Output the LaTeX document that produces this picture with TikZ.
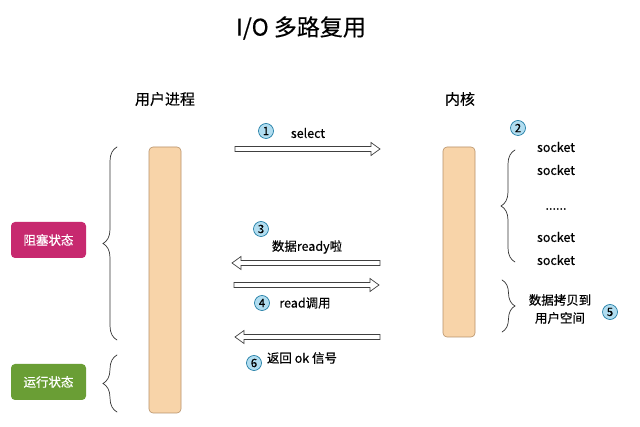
\documentclass[tikz,border=0pt]{standalone}
\usepackage{fontspec}
\setmainfont{Noto Sans CJK SC}[FakeBold=0.35]
\usetikzlibrary{calc,decorations.pathreplacing}
\definecolor{barfill}{HTML}{F8D4A9}
\definecolor{barline}{HTML}{B8926A}
\definecolor{blockc}{HTML}{C7296F}
\definecolor{runc}{HTML}{6A9E35}
\definecolor{numfill}{HTML}{B1DDF0}
\definecolor{numline}{HTML}{10739E}
\definecolor{bracec}{HTML}{333333}
\newcommand\lbl{\fontsize{12.5}{15}\selectfont}
\newcommand\hollowarrow[3]{%
  \draw[hollow] ($(#1)+(0,-2.5)$) -- ($(#2)+({-9*#3},-2.5)$) -- ($(#2)+({-9*#3},-6.5)$) -- (#2)
     -- ($(#2)+({-9*#3},6.5)$) -- ($(#2)+({-9*#3},2.5)$) -- ($(#1)+(0,2.5)$) -- cycle;}
\begin{document}
\begin{tikzpicture}[x=1pt,y=-1pt,
  bar/.style={draw=barline, fill=barfill, rounded corners=4pt, minimum width=32pt, line width=0.6pt, inner sep=0pt},
  statebox/.style={rounded corners=4pt, minimum width=75pt, minimum height=36pt, text=white, font=\lbl, inner sep=0pt},
  num/.style={circle, draw=numline, fill=numfill, line width=0.6pt, minimum size=15pt, inner sep=0pt, font=\fontsize{11.5}{12}\selectfont},
  txt/.style={font=\lbl, inner sep=0pt},
  hollow/.style={draw=black!75, fill=white, line width=0.7pt, line join=miter},
  brc/.style={draw=bracec, line width=0.7pt, decorate, line cap=round}]
\useasboundingbox (0,0) rectangle (640,427);
\fill[white] (0,0) rectangle (640,427);

% title and headers
\node[inner sep=0pt, font=\fontsize{23}{27}\selectfont] (title) at (301,28) {I/O 多路复用};
\node[inner sep=0pt, font=\fontsize{15}{18}\selectfont] (user) at (165,99) {用户进程};
\node[inner sep=0pt, font=\fontsize{15}{18}\selectfont] (kernel) at (460,99) {内核};

% bars
\node[bar, minimum height=266pt] (ubar) at (165,280) {};
\node[bar, minimum height=190pt] (kbar) at (459,242) {};

% state boxes
\node[statebox, fill=blockc] (block) at (48.5,240) {阻塞状态};
\node[statebox, fill=runc] (run) at (48.5,382) {运行状态};

% braces
\coordinate (b1s) at (117,340); \coordinate (b1e) at (117,147);
\draw[brc, decoration={brace, amplitude=14pt}] (b1s) -- (b1e);
\coordinate (b2s) at (117,412); \coordinate (b2e) at (117,355);
\draw[brc, decoration={brace, amplitude=14pt}] (b2s) -- (b2e);
\coordinate (b3s) at (515,262); \coordinate (b3e) at (515,150);
\draw[brc, decoration={brace, amplitude=14pt}] (b3s) -- (b3e);
\coordinate (b4s) at (502,280); \coordinate (b4e) at (502,332);
\draw[brc, decoration={brace, amplitude=13pt}] (b4s) -- (b4e);

% arrows
\coordinate (a1s) at (235,149); \coordinate (a1e) at (380,149);
\hollowarrow{a1s}{a1e}{1}
\coordinate (a3s) at (380,263); \coordinate (a3e) at (232,263);
\hollowarrow{a3s}{a3e}{-1}
\coordinate (a4s) at (234,285); \coordinate (a4e) at (379,285);
\hollowarrow{a4s}{a4e}{1}
\coordinate (a6s) at (380,337); \coordinate (a6e) at (235,337);
\hollowarrow{a6s}{a6e}{-1}

% labels on arrows
\node[num] (n1) at (266,131) {1};
\node[txt] (t1) at (308,133) {select};
\node[num] (n3) at (261,229) {3};
\node[txt] (t3) at (307,247) {数据ready啦};
\node[num] (n4) at (262,303) {4};
\node[txt] (t4) at (305,303) {read调用};
\node[num] (n6) at (254,363) {6};
\node[txt] (t6) at (302,358) {返回 ok 信号};

% kernel side
\node[num] (n2) at (518,128) {2};
\node[txt] (s1) at (556,147) {socket};
\node[txt] (s2) at (556,170) {socket};
\node[txt] (sd) at (556,209) {......};
\node[txt] (s3) at (556,237) {socket};
\node[txt] (s4) at (556,260) {socket};
\node[txt, align=center, font=\fontsize{12.5}{18}\selectfont] (copy) at (560,309) {数据拷贝到\\用户空间};
\node[num] (n5) at (610,312) {5};
\end{tikzpicture}
\end{document}
